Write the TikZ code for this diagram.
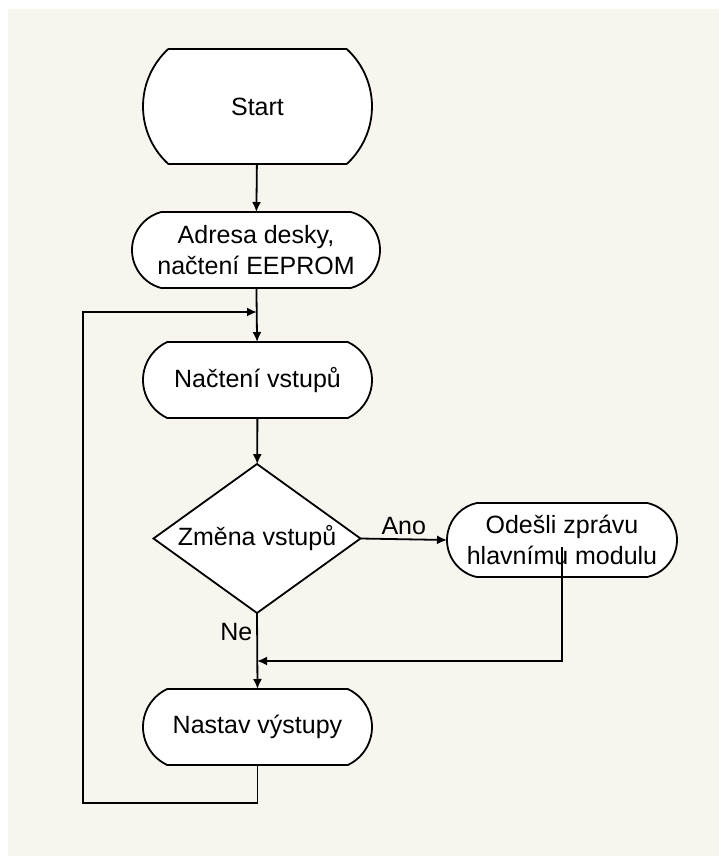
\documentclass[tikz,border=0pt]{standalone}
\usepackage{fontspec}
\setmainfont{Liberation Sans}
\usetikzlibrary{shapes.misc,shapes.geometric,arrows.meta,positioning}
\definecolor{mybeige}{RGB}{248,245,238}
\tikzstyle{term}=[draw,fill=white,rounded rectangle,rounded rectangle arc length=130,minimum width=229pt,minimum height=76pt,inner sep=0pt,outer sep=0pt,align=center,font=\fontsize{25}{30.5}\selectfont]
\tikzstyle{decision}=[draw,fill=white,diamond,aspect=1.4,minimum width=207pt,minimum height=149pt,inner sep=0pt,outer sep=0pt,font=\fontsize{25}{30.5}\selectfont]
\tikzstyle{lbl}=[inner sep=4pt,font=\fontsize{25}{30.5}\selectfont]
\tikzstyle{arr}=[-{Latex[length=10pt,width=9pt]}]

\begin{document}
\begin{tikzpicture}[x=1pt,y=-1pt,line width=1.8pt]
\useasboundingbox (0,0) rectangle (719,856);
\fill[white] (0,0) rectangle (719,856);
\fill[mybeige] (8,9) rectangle (719,856);
\draw (257.5,106.5) node [term,rounded rectangle arc length=95,minimum height=115pt] (start) {Start};
\draw (256,250) node [term,rounded rectangle arc length=150,minimum width=248pt] (adresa) {Adresa desky,\\načtení EEPROM};
\draw (257.5,380) node [term] (nacteni) {Načtení vstupů};
\draw (257,538.5) node [decision] (zmena) {Změna vstupů};
\draw (562,540) node [term,rounded rectangle arc length=155,minimum width=230pt,minimum height=74pt] (odesli) {Odešli zprávu\\hlavnímu modulu};
\draw (257.5,727) node [term] (nastav) {Nastav výstupy};
\coordinate (j1) at (257,312);
\coordinate (j2) at (257,661);
\coordinate (loop) at (83,803);
\draw[arr] (start) -- (adresa);
\draw[arr] (adresa) -- (nacteni);
\draw[arr] (nacteni) -- (zmena);
\draw[arr] (zmena.east) -- node [lbl,above] {Ano} (odesli.west);
\draw[arr] (zmena.south) -- node [lbl,left,pos=0.25] {Ne} (nastav.north);
\draw[arr] ([yshift=-7pt]odesli.center) |- (j2);
\draw[arr] (nastav.south) |- (loop) |- (j1);
\end{tikzpicture}
\end{document}
